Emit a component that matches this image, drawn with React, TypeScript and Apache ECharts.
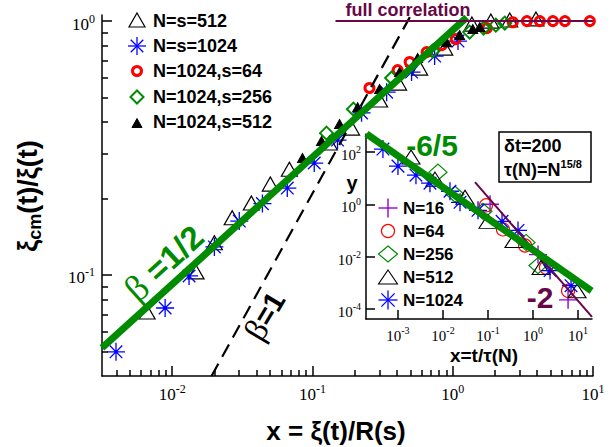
import React, { useEffect, useRef } from 'react';
import * as echarts from 'echarts';

const GREEN = '#008b00';
const MAROON = '#670748';
const VIOLET = '#9400d3';
const BLUE = '#0000ff';
const RED = '#ff0000';
const BLACK = '#000000';
const SANS = 'Liberation Sans, Arial, sans-serif';
const SERIF = 'Liberation Serif, Times New Roman, serif';

// ---- axis ranges (log10 units)
const mainXRange = [-2.5, 1];
const mainYRange = [Math.log10(0.04), 0.024];
const insetXRange = [-3.71, 1.31];
const insetYRange = [-4.39, 2.69];

// ---- main panel: tick positions (exponents / raw values)
const mainXTickExp = [-2, -1, 0, 1];
const mainYTickExp = [-1, 0];
const mainXMinor = [0.004, 0.005, 0.006, 0.007, 0.008, 0.009, 0.02, 0.03, 0.04, 0.05, 0.06, 0.07, 0.08, 0.09, 0.2, 0.3, 0.4, 0.5, 0.6, 0.7, 0.8, 0.9, 2, 3, 4, 5, 6, 7, 8, 9];
const mainYMinor = [0.05, 0.06, 0.07, 0.08, 0.09, 0.2, 0.3, 0.4, 0.5, 0.6, 0.7, 0.8, 0.9];

// ---- inset ticks
const insetXTickExp = [-3, -2, -1, 0, 1];
const insetYTickExp = [-4, -2, 0, 2];

// ---- main panel series
const legendMain = ['N=s=512', 'N=s=1024', 'N=1024,s=64', 'N=1024,s=256', 'N=1024,s=512'];

const ns512X = [0.00663, 0.0148, 0.0200, 0.0268, 0.0367, 0.0501, 0.0685, 0.132, 0.190, 0.301, 0.411, 0.581, 0.877, 1.37, 1.87, 2.55, 3.92];
const ns512Y = [0.0715, 0.1028, 0.134, 0.168, 0.192, 0.228, 0.261, 0.331, 0.379, 0.489, 0.570, 0.653, 0.783, 0.973, 1.0, 1.01, 1.02];

const ns1024X = [0.00398, 0.00891, 0.0132, 0.0200, 0.0301, 0.0440, 0.0662, 0.103, 0.151, 0.224, 0.338, 0.509, 0.743, 1.09];
const ns1024Y = [0.0498, 0.0741, 0.0991, 0.129, 0.163, 0.191, 0.220, 0.276, 0.340, 0.435, 0.525, 0.630, 0.728, 0.834];

const s64X = [0.255, 0.405, 0.493, 0.652, 0.834, 1.05, 1.75, 2.68, 3.38, 4.18, 5.18, 6.31, 9.5];
const s64Y = [0.545, 0.641, 0.690, 0.755, 0.804, 0.849, 0.938, 0.99, 1.0, 1.0, 1.0, 1.0, 1.0];

const s256X = [0.126, 0.196, 0.367, 0.720, 1.32, 1.66, 2.03, 2.35];
const s256Y = [0.362, 0.450, 0.597, 0.762, 0.905, 0.938, 0.964, 0.982];

const s512X = [0.0849, 0.116, 0.156, 0.210, 0.301, 0.418, 0.562, 0.906, 1.12, 1.39, 1.56];
const s512Y = [0.289, 0.337, 0.393, 0.458, 0.540, 0.630, 0.715, 0.826, 0.881, 0.930, 0.947];

const betaHalfX = [0.00316, 1.26];
const betaHalfY = [0.0516, 1.035];
const betaOneX = [0.0191, 0.495];
const betaOneY = [0.04, 1.037];
const fullCorrX = [0.146, 10];
const fullCorrY = [1.0, 1.0];

// ---- inset series
const legendInset = ['N=16', 'N=64', 'N=256', 'N=512', 'N=1024'];

const n16X = [0.111, 1.29, 6.0];
const n16Y = [1.0, 0.0119, 2.2e-4];
const n64X = [0.0903, 0.215, 0.664, 1.94, 6.0];
const n64Y = [0.916, 0.109, 0.0265, 3.78e-3, 4.9e-4];
const n256X = [7.74e-3, 0.0185, 0.0774, 0.698, 1.29];
const n256Y = [17.0, 2.42, 0.538, 0.0346, 4.5e-3];
const n512X = [1.95e-3, 6.64e-3, 0.0308, 0.1, 0.378, 1.51, 9.5];
const n512Y = [64.2, 9.16, 1.86, 0.222, 0.0412, 3.78e-3, 4.9e-4];
const n1024X = [4.64e-4, 1.0e-3, 2.51e-3, 5.14e-3, 0.0143, 0.0239, 0.060, 0.205, 0.464, 2.39, 6.99];
const n1024Y = [130, 28.9, 13.0, 6.42, 3.16, 1.19, 0.588, 0.222, 0.1, 0.0029, 7.7e-4];

const slope65X = [2.0e-4, 20.0];
const slope65Y = [490, 4.9e-4];
const slope2X = [0.0514, 20.4];
const slope2Y = [7.0, 4.9e-5];

// ---------------------------------------------------------------
const L = (v: number) => Math.log10(v);
const pts = (xs: number[], ys: number[]) => xs.map((x, i) => [L(x), L(ys[i])]);

const STAR = 'path://M0,-10L0,10M-10,0L10,0M-7,-7L7,7M-7,7L7,-7';
const PLUS = 'path://M0,-10L0,10M-10,0L10,0';
const CLEAR = 'rgba(0,0,0,0)';

const richPow = (big: number, small: number) => ({
  a: { fontFamily: SERIF, fontSize: big, lineHeight: big, padding: [6, 0, 0, 0], fill: BLACK, color: BLACK },
  b: { fontFamily: SERIF, fontSize: small, lineHeight: small, verticalAlign: 'top', fill: BLACK, color: BLACK },
});

const tickStyle = { color: BLACK, width: 1.5 };

function axisPair(range: number[], grid: number, majors: number[], minors: number[] | null, majLen: number, pos: string) {
  const out: any[] = [
    {
      type: 'value', gridIndex: grid, min: range[0], max: range[1], position: pos,
      axisLine: { show: true, onZero: false, lineStyle: { color: BLACK, width: 1.5 } },
      axisTick: { show: true, inside: true, length: majLen, customValues: majors, lineStyle: tickStyle },
      axisLabel: { show: false },
      splitLine: { show: false },
    },
  ];
  if (minors) {
    out.push({
      type: 'value', gridIndex: grid, min: range[0], max: range[1], position: pos, offset: 0,
      axisLine: { show: false, onZero: false },
      axisTick: { show: true, inside: true, length: 6, customValues: minors.map(L), lineStyle: tickStyle },
      axisLabel: { show: false },
      splitLine: { show: false },
    });
  }
  return out;
}

// tick labels "10^k" placed through the axes' own scale (custom series)
function tickLabels(axis: number, data: number[][], which: number, dx: number, dy: number, align: string, vAlign: string, big: number, small: number) {
  return {
    type: 'custom', coordinateSystem: 'cartesian2d', xAxisIndex: axis, yAxisIndex: axis,
    silent: true, clip: false, z: 5, data,
    renderItem: (params: any, api: any) => {
      const p = api.coord([api.value(0), api.value(1)]);
      const e = Math.round(api.value(which));
      return {
        type: 'text', x: p[0] + dx, y: p[1] + dy,
        style: {
          text: `{a|10}{b|${e}}`, rich: richPow(big, small), fill: BLACK,
          align, verticalAlign: vAlign, textAlign: align, textVerticalAlign: vAlign,
        },
      };
    },
  };
}

function scatter(name: string, xs: number[], ys: number[], axis: number, symbol: string, size: any, fill: string, stroke: string, lw: number) {
  return {
    name, type: 'scatter', xAxisIndex: axis, yAxisIndex: axis, data: pts(xs, ys),
    symbol, symbolSize: size, silent: true,
    itemStyle: { color: fill, borderColor: stroke, borderWidth: lw, opacity: 1 },
  };
}

function line(name: string, xs: number[], ys: number[], axis: number, color: string, width: number, type: any = 'solid') {
  return {
    name, type: 'line', xAxisIndex: axis, yAxisIndex: axis, data: pts(xs, ys),
    showSymbol: false, symbol: 'none', silent: true,
    lineStyle: { color, width, type, cap: 'butt' },
  };
}

// ---- graphic helpers
function mk(kind: string, cx: number, cy: number, w: number, h: number, color: string, lw: number): any {
  const st = { fill: 'none', stroke: color, lineWidth: lw };
  switch (kind) {
    case 'triOpen':
      return { type: 'polygon', z: 100, shape: { points: [[cx, cy - h / 2], [cx + w / 2, cy + h / 2], [cx - w / 2, cy + h / 2]] }, style: st };
    case 'triFill':
      return { type: 'polygon', z: 100, shape: { points: [[cx, cy - h / 2], [cx + w / 2, cy + h / 2], [cx - w / 2, cy + h / 2]] }, style: { fill: color, stroke: color, lineWidth: lw } };
    case 'circle':
      return { type: 'circle', z: 100, shape: { cx, cy, r: w / 2 }, style: st };
    case 'diamond':
      return { type: 'polygon', z: 100, shape: { points: [[cx, cy - h / 2], [cx + w / 2, cy], [cx, cy + h / 2], [cx - w / 2, cy]] }, style: st };
    case 'plus':
      return {
        type: 'group', z: 100, children: [
          { type: 'line', shape: { x1: cx, y1: cy - h / 2, x2: cx, y2: cy + h / 2 }, style: st },
          { type: 'line', shape: { x1: cx - w / 2, y1: cy, x2: cx + w / 2, y2: cy }, style: st },
        ],
      };
    default: {
      const d = 0.35 * w;
      return {
        type: 'group', z: 100, children: [
          { type: 'line', shape: { x1: cx, y1: cy - h / 2, x2: cx, y2: cy + h / 2 }, style: st },
          { type: 'line', shape: { x1: cx - w / 2, y1: cy, x2: cx + w / 2, y2: cy }, style: st },
          { type: 'line', shape: { x1: cx - d, y1: cy - d, x2: cx + d, y2: cy + d }, style: st },
          { type: 'line', shape: { x1: cx - d, y1: cy + d, x2: cx + d, y2: cy - d }, style: st },
        ],
      };
    }
  }
}

function txt(x: number, y: number, text: string, fontSize: number, color: string, align = 'left', extra: any = {}, rotation = 0): any {
  return {
    type: 'text', x, y, rotation, z: 100,
    style: {
      text, fill: color, fontSize, fontWeight: 'bold', fontFamily: SANS,
      align, textAlign: align, verticalAlign: 'middle', textVerticalAlign: 'middle', ...extra,
    },
  };
}

const mainLegendMarks = [
  mk('triOpen', 137, 20, 16, 14, BLACK, 1.2),
  mk('star', 137, 46, 18, 18, BLUE, 1.3),
  mk('circle', 137, 71, 9, 9, RED, 3),
  mk('diamond', 137, 97, 13, 13, GREEN, 2),
  mk('triFill', 137, 123, 10, 9, BLACK, 1),
];
const mainLegendY = [21, 46, 71, 97, 122];
const insetLegendMarks = [
  mk('plus', 388, 208, 19, 19, VIOLET, 1.4),
  mk('circle', 388, 231, 13, 13, RED, 1.2),
  mk('diamond', 388, 254, 19, 16, GREEN, 1.2),
  mk('triOpen', 388, 277, 19, 14, BLACK, 1.1),
  mk('star', 388, 300, 19, 19, BLUE, 1.3),
];
const insetLegendY = [208, 231, 254, 277, 300];

const graphics: any[] = [
  ...mainLegendMarks,
  ...legendMain.map((t, i) => txt(153, mainLegendY[i], t, 18, BLACK)),
  ...insetLegendMarks,
  ...legendInset.map((t, i) => txt(403, insetLegendY[i], t, 17, BLACK)),
  txt(408, 10, 'full correlation', 18, MAROON, 'center'),
  txt(432, 145, '-6/5', 30, GREEN, 'center'),
  txt(540, 297, '-2', 30, MAROON, 'center'),
  txt(164, 263, '{g|β} {n|=1/2}', 33, GREEN, 'center', {
    rich: {
      g: { fontFamily: SERIF, fontSize: 37, fontWeight: 'normal', fill: GREEN, color: GREEN },
      n: { fontFamily: SANS, fontSize: 33, fontWeight: 'bold', fill: GREEN, color: GREEN },
    },
  }, 0.737),
  txt(265, 316, '{g|β}{n|=1}', 29, BLACK, 'center', {
    rich: {
      g: { fontFamily: SERIF, fontSize: 33, fontWeight: 'normal', fill: BLACK, color: BLACK },
      n: { fontFamily: SANS, fontSize: 29, fontWeight: 'bold', fill: BLACK, color: BLACK },
    },
  }, 1.03),
  { type: 'rect', z: 99, shape: { x: 499, y: 132, width: 92, height: 50 }, style: { fill: '#fff', stroke: BLACK, lineWidth: 1.5 } },
  txt(504, 146, 'δt=200', 18, BLACK),
  txt(504, 167, '{a|τ(N)=N}{b|15/8}', 18, BLACK, 'left', {
    rich: {
      a: { fontFamily: SANS, fontSize: 18, fontWeight: 'bold', lineHeight: 18, padding: [6, 0, 0, 0], fill: BLACK },
      b: { fontFamily: SANS, fontSize: 11, fontWeight: 'bold', lineHeight: 11, verticalAlign: 'top', fill: BLACK },
    },
  }),
  txt(336, 431, 'x = ξ(t)/R(s)', 26, BLACK, 'center'),
  txt(30, 196, '{a|ξ}{b|cm}{a|(t)/ξ(t)}', 27, BLACK, 'center', {
    rich: {
      a: { fontFamily: SANS, fontSize: 27, fontWeight: 'bold', lineHeight: 28, padding: [0, 0, 5, 0], fill: BLACK },
      b: { fontFamily: SANS, fontSize: 18, fontWeight: 'bold', lineHeight: 18, verticalAlign: 'bottom', fill: BLACK },
    },
  }, Math.PI / 2),
  txt(484, 355, 'x=t/τ(N)', 19, BLACK, 'center'),
  txt(352, 183, 'y', 20, BLACK, 'center'),
];

const option: any = {
  animation: false,
  backgroundColor: '#ffffff',
  grid: [
    { left: 102, top: 15, right: 20, bottom: 71, containLabel: false, outerBoundsMode: 'none' },
    { left: 366, top: 134, right: 21, bottom: 128, containLabel: false, outerBoundsMode: 'none' },
  ],
  xAxis: [
    ...axisPair(mainXRange, 0, mainXTickExp, mainXMinor, 10, 'bottom'),
    ...axisPair(insetXRange, 1, insetXTickExp, null, 9, 'bottom'),
  ],
  yAxis: [
    ...axisPair(mainYRange, 0, mainYTickExp, mainYMinor, 10, 'left'),
    ...axisPair(insetYRange, 1, insetYTickExp, null, 9, 'left'),
  ],
  series: [
    scatter(legendMain[0], ns512X, ns512Y, 0, 'triangle', [16, 14], CLEAR, BLACK, 1.2),
    scatter(legendMain[1], ns1024X, ns1024Y, 0, STAR, 18, BLUE, BLUE, 1.3),
    scatter(legendMain[2], s64X, s64Y, 0, 'circle', 9, CLEAR, RED, 3),
    scatter(legendMain[3], s256X, s256Y, 0, 'diamond', 13, CLEAR, GREEN, 2),
    scatter(legendMain[4], s512X, s512Y, 0, 'triangle', [10, 9], BLACK, BLACK, 1),
    line('beta=1', betaOneX, betaOneY, 0, BLACK, 2.2, [14, 8]),
    line('beta=1/2', betaHalfX, betaHalfY, 0, GREEN, 7),
    line('full correlation', fullCorrX, fullCorrY, 0, MAROON, 2),
    scatter(legendInset[0], n16X, n16Y, 2, PLUS, 18, VIOLET, VIOLET, 1.4),
    scatter(legendInset[1], n64X, n64Y, 2, 'circle', 13, CLEAR, RED, 1.2),
    scatter(legendInset[2], n256X, n256Y, 2, 'diamond', [18, 16], CLEAR, GREEN, 1.2),
    scatter(legendInset[3], n512X, n512Y, 2, 'triangle', [18, 14], CLEAR, BLACK, 1.1),
    scatter(legendInset[4], n1024X, n1024Y, 2, STAR, 18, BLUE, BLUE, 1.3),
    line('slope -2', slope2X, slope2Y, 2, MAROON, 2),
    line('slope -6/5', slope65X, slope65Y, 2, GREEN, 7),
    tickLabels(0, mainXTickExp.map((v) => [v, mainYRange[0]]), 0, 0, 7, 'center', 'top', 17, 12),
    tickLabels(0, mainYTickExp.map((v) => [mainXRange[0], v]), 1, -7, 0, 'right', 'middle', 17, 12),
    tickLabels(2, insetXTickExp.map((v) => [v, insetYRange[0]]), 0, 0, 6, 'center', 'top', 15, 10),
    tickLabels(2, insetYTickExp.map((v) => [insetXRange[0], v]), 1, -5, 0, 'right', 'middle', 15, 10),
  ],
  graphic: { elements: graphics },
};

export default function App() {
  const ref = useRef<HTMLDivElement>(null);
  useEffect(() => {
    const chart = echarts.init(ref.current as HTMLDivElement, null, { renderer: 'svg' });
    chart.setOption(option);
    return () => chart.dispose();
  }, []);
  return (
    <div
      ref={ref}
      style={{ position: 'absolute', left: 0, top: 0, width: 613, height: 447, background: '#fff' }}
    />
  );
}
